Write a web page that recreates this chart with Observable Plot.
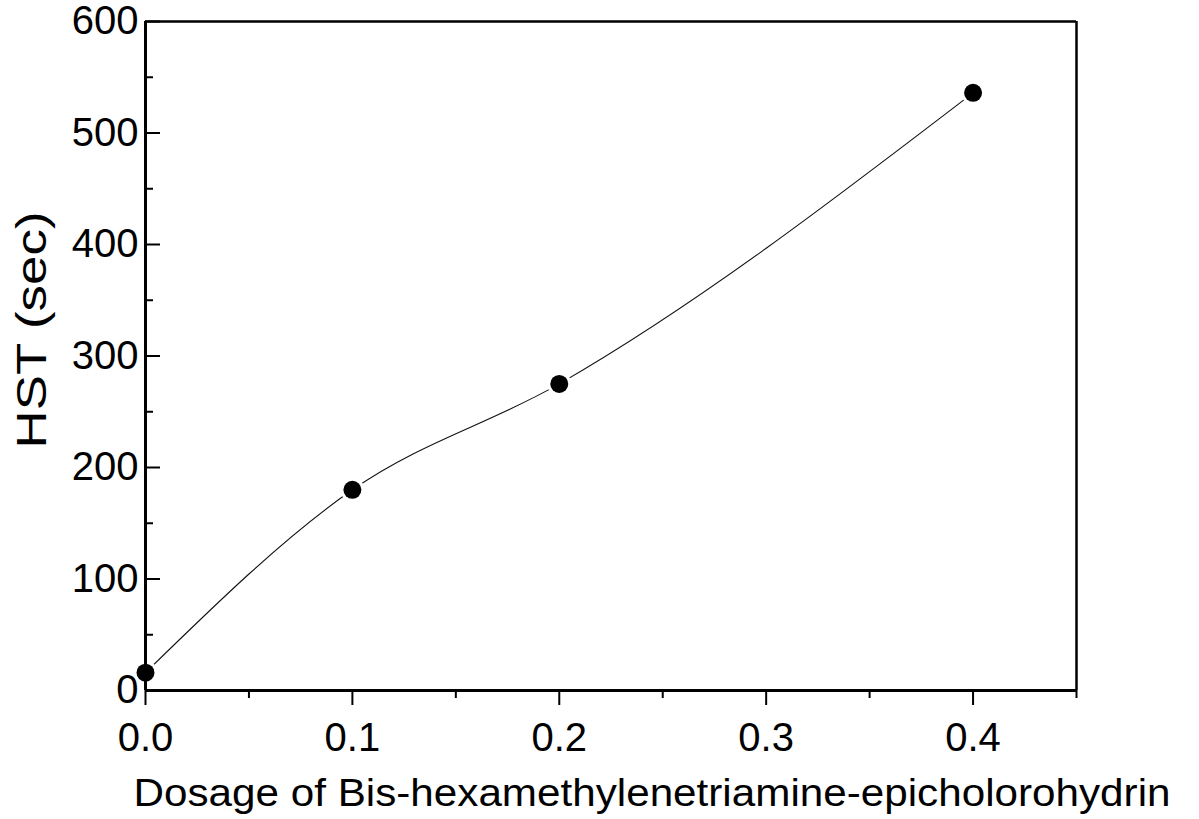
<!DOCTYPE html>
<html>
<head>
<meta charset="utf-8">
<script src="https://cdn.jsdelivr.net/npm/d3@7"></script>
<script src="https://cdn.jsdelivr.net/npm/@observablehq/plot@0.6"></script>
<style>
  html, body { margin: 0; padding: 0; background: #fff; }
  #chart { width: 1199px; height: 819px; }
</style>
</head>
<body>
<div id="chart"></div>
<script>
// Hydrogel setting time against crosslinker dosage
const dosage = [0, 0.1, 0.2, 0.4];
const hst = [16, 180, 275, 536];

const xMajorTicks = [0, 0.1, 0.2, 0.3, 0.4];
const xMinorTicks = [0.05, 0.15, 0.25, 0.35, 0.45];
const yMajorTicks = [0, 100, 200, 300, 400, 500, 600];
const yMinorTicks = [50, 150, 250, 350, 450, 550];

const xLabel = "Dosage of Bis-hexamethylenetriamine-epicholorohydrin";
const yLabel = "HST (sec)";

const points = dosage.map((d, i) => ({dosage: d, hst: hst[i]}));

const font = "'Liberation Sans', Arial, Helvetica, sans-serif";

const chart = Plot.plot({
  width: 1199,
  height: 819,
  marginLeft: 145,
  marginRight: 123,
  marginTop: 21,
  marginBottom: 129,
  style: {fontFamily: font, background: "#fff", color: "#000", overflow: "visible"},
  x: {domain: [0, 0.45]},
  y: {domain: [0, 600]},
  marks: [
    // smooth monotone curve through the measurements
    Plot.line(points, {x: "dosage", y: "hst", curve: "monotone-x", stroke: "#111", strokeWidth: 1.1}),
    // white halo so the curve stops short of each marker
    Plot.dot(points, {x: "dosage", y: "hst", r: 12, fill: "#fff", stroke: "none"}),

    // frame
    Plot.ruleY([600], {stroke: "#000", strokeWidth: 2.5}),
    Plot.ruleX([0.45], {stroke: "#000", strokeWidth: 2.5}),
    Plot.ruleX([0], {stroke: "#000", strokeWidth: 3}),
    Plot.ruleY([0], {stroke: "#000", strokeWidth: 3}),

    // x axis: outward ticks and labels
    Plot.axisX({ticks: xMajorTicks, tickSize: 15, strokeWidth: 2, fill: "none", label: null}),
    Plot.axisX({ticks: xMinorTicks, tickSize: 8, strokeWidth: 2, fill: "none", label: null}),
    Plot.axisX({ticks: xMajorTicks, tickSize: 0, tickPadding: 32, tickFormat: d3.format(".1f"),
      fontSize: 40, fill: "#000", label: null}),

    // y axis: inward ticks and labels
    Plot.axisY({ticks: yMajorTicks, tickSize: 15, dx: 15, strokeWidth: 2, fill: "none", label: null}),
    Plot.axisY({ticks: yMinorTicks, tickSize: 8, dx: 8, strokeWidth: 2, fill: "none", label: null}),
    Plot.axisY({ticks: yMajorTicks, tickSize: 0, tickPadding: 7, tickFormat: d3.format("d"),
      fontSize: 40, fill: "#000", label: null}),

    // measured points
    Plot.dot(points, {x: "dosage", y: "hst", r: 9, fill: "#000", stroke: "none"}),

    // axis titles
    Plot.text([xLabel], {frameAnchor: "bottom", text: d => d, dx: 41, dy: 115,
      lineAnchor: "bottom", textAnchor: "middle", fontSize: 38, fill: "#000"}),
    Plot.text([yLabel], {frameAnchor: "left", text: d => d, rotate: -90, dx: -100, dy: -26,
      lineAnchor: "bottom", textAnchor: "middle", fontSize: 43, fill: "#000"})
  ]
});

document.getElementById("chart").appendChild(chart);

// widen the axis titles to their set lengths
for (const t of chart.querySelectorAll("text")) {
  if (t.textContent === xLabel) {
    t.setAttribute("textLength", 1037);
    t.setAttribute("lengthAdjust", "spacingAndGlyphs");
  } else if (t.textContent === yLabel) {
    t.setAttribute("textLength", 237);
    t.setAttribute("lengthAdjust", "spacingAndGlyphs");
  }
}
</script>
</body>
</html>
